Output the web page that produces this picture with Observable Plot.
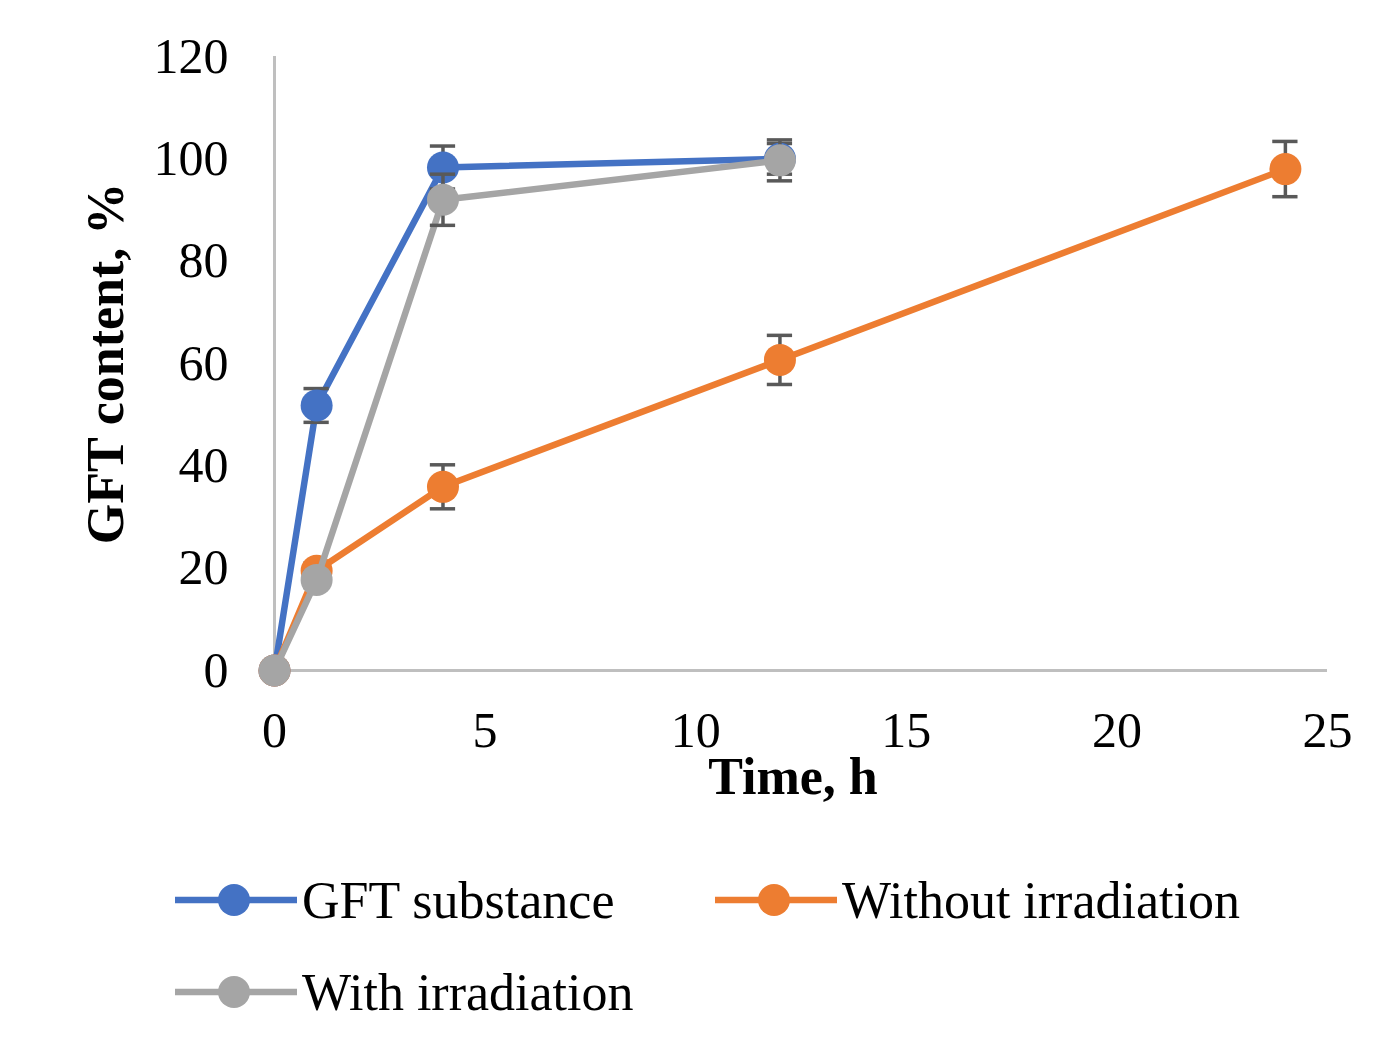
<!DOCTYPE html>
<html>
<head>
<meta charset="utf-8">
<script src="https://cdn.jsdelivr.net/npm/d3@7"></script>
<script src="https://cdn.jsdelivr.net/npm/@observablehq/plot@0.6"></script>
<style>
  html, body { margin: 0; padding: 0; background: #fff; }
  body { width: 1388px; height: 1038px; position: relative; overflow: hidden; font-family: "Liberation Serif", "Times New Roman", serif; }
  #chart svg { display: block; }
  #chart svg [aria-label="y-axis label"], #chart svg [aria-label="x-axis label"] { font-weight: bold; font-size: 52px; }
  #legend { position: absolute; left: 0; top: 0; width: 1388px; }
  .item { position: absolute; display: flex; align-items: center; font-size: 52px; color: #000; white-space: nowrap; }
  .item svg { display: block; margin-right: 5px; }
</style>
</head>
<body>
<div id="chart"></div>
<div id="legend"></div>
<script>
// ---- data ----
const times = [0, 1, 4, 12, 24];
const seriesNames = ["GFT substance", "Without irradiation", "With irradiation"];
const seriesColors = ["#4472c4", "#ed7d31", "#a5a5a5"];
const gftSubstance = [0, 51.8, 98.3, 100.0];
const gftSubstanceErr = [0, 3.3, 4.2, 3.0];
const withoutIrradiation = [0, 19.5, 35.9, 60.7, 98.0];
const withoutIrradiationErr = [0, 1.5, 4.3, 4.8, 5.4];
const withIrradiation = [0, 17.7, 92.0, 99.7];
const withIrradiationErr = [0, 1.5, 5.0, 4.0];
const xTicks = [0, 5, 10, 15, 20, 25];
const yTicks = [0, 20, 40, 60, 80, 100, 120];

const valueLists = [gftSubstance, withoutIrradiation, withIrradiation];
const errLists = [gftSubstanceErr, withoutIrradiationErr, withIrradiationErr];
const rows = [];
valueLists.forEach((vals, si) => {
  vals.forEach((v, i) => rows.push({series: seriesNames[si], t: times[i], v, e: errLists[si][i]}));
});

const capHalf = 0.3;
const marks = [
  Plot.ruleY([0], {stroke: "#bfbfbf", strokeWidth: 3}),
  Plot.ruleX([0], {stroke: "#bfbfbf", strokeWidth: 3})
];
seriesNames.forEach((name, si) => {
  const d = rows.filter(r => r.series === name);
  const de = d.filter(r => r.e > 0);
  const c = seriesColors[si];
  marks.push(
    Plot.line(d, {x: "t", y: "v", stroke: c, strokeWidth: 6.5}),
    Plot.ruleX(de, {x: "t", y1: r => r.v - r.e, y2: r => r.v + r.e, stroke: "#595959", strokeWidth: 3.5}),
    Plot.ruleY(de, {y: r => r.v - r.e, x1: r => r.t - capHalf, x2: r => r.t + capHalf, stroke: "#595959", strokeWidth: 3.5}),
    Plot.ruleY(de, {y: r => r.v + r.e, x1: r => r.t - capHalf, x2: r => r.t + capHalf, stroke: "#595959", strokeWidth: 3.5}),
    Plot.dot(d, {x: "t", y: "v", r: 16, fill: c, stroke: "none"})
  );
});

const chart = Plot.plot({
  width: 1388,
  height: 840,
  marginLeft: 274,
  marginRight: 61,
  marginTop: 56,
  marginBottom: 170,
  style: {fontFamily: "'Liberation Serif', 'Times New Roman', serif", fontSize: "50px", color: "#000", background: "#fff", overflow: "visible"},
  x: {domain: [0, 25], ticks: xTicks, tickSize: 0, tickPadding: 41, label: "Time, h", labelAnchor: "center", labelOffset: 126, labelArrow: "none"},
  y: {domain: [0, 120], ticks: yTicks, tickSize: 0, tickPadding: 46, label: "GFT content, %", labelAnchor: "center", labelOffset: 188, labelArrow: "none"},
  marks
});
chart.querySelectorAll('[aria-label="x-axis label"] text, [aria-label="y-axis label"] text').forEach(t => t.setAttribute("font-weight", "bold"));
const xl = chart.querySelector('[aria-label="x-axis label"]');
if (xl) xl.setAttribute("transform", (xl.getAttribute("transform") || "") + " translate(-8,-3)");
document.getElementById("chart").appendChild(chart);

// ---- legend ----
const legendPos = [{left: 175, top: 900}, {left: 715, top: 900}, {left: 175, top: 992}];
const legend = document.getElementById("legend");
seriesNames.forEach((name, i) => {
  const div = document.createElement("div");
  div.className = "item";
  div.style.left = legendPos[i].left + "px";
  div.style.top = (legendPos[i].top - 30) + "px";
  div.style.height = "60px";
  div.innerHTML = `<svg width="122" height="40"><line x1="0" y1="20" x2="122" y2="20" stroke="${seriesColors[i]}" stroke-width="6.5"/><circle cx="59" cy="20" r="16" fill="${seriesColors[i]}"/></svg><span>${name}</span>`;
  legend.appendChild(div);
});
</script>
</body>
</html>
